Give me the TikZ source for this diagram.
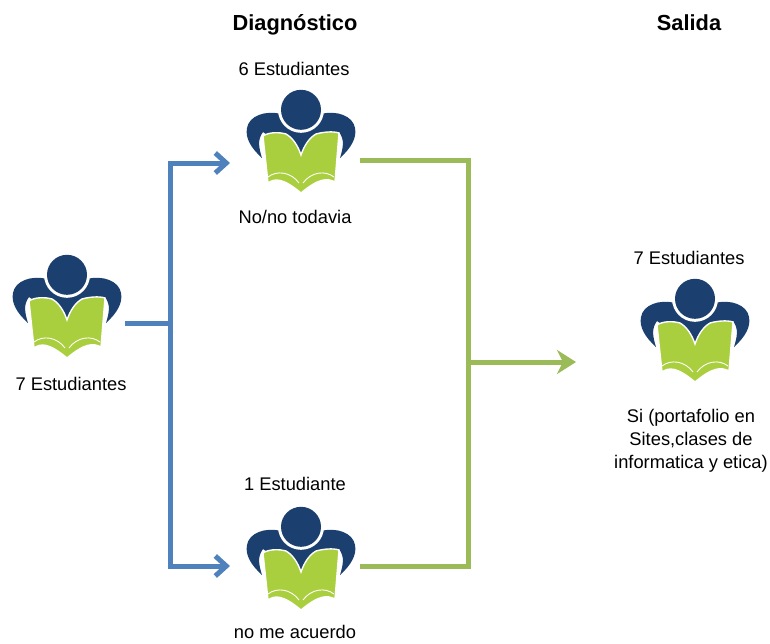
\documentclass[tikz,border=0pt]{standalone}
\usepackage{fontspec}
\setmainfont{Liberation Sans}
\usepackage{tikz}
\usetikzlibrary{calc,arrows.meta}
\definecolor{icon_dark}{HTML}{1B3F6F}
\definecolor{icon_green}{HTML}{A9CE3E}
\definecolor{line_blue}{HTML}{4F81BD}
\definecolor{line_green}{HTML}{9BBB59}
\tikzset{
	reader/.pic={
		\fill[icon_dark] (-39,68) .. controls (-50,58) and (-56,48) .. (-54,38)
			.. controls (-52,26) and (-36,20) .. (-20,24)
			-- (20,24)
			.. controls (36,20) and (52,26) .. (54,38)
			.. controls (56,48) and (50,58) .. (39,68)
			.. controls (42,58) and (44,50) .. (38,42)
			-- (0,68) -- (-38,42)
			.. controls (-44,50) and (-42,58) .. (-39,68) -- cycle;
		\fill[white] (0,19.8) circle (23);
		\fill[icon_dark] (0,19.8) circle (20);
		\fill[icon_green,draw=white,line width=1.4pt] (-38,46)
			.. controls (-32,42) and (-22,42) .. (-15,44)
			.. controls (-8,48) and (-3,56) .. (0,65)
			.. controls (3,56) and (8,48) .. (15,44)
			.. controls (22,42) and (32,41) .. (38,43)
			-- (34,92) .. controls (26,88) and (18,88) .. (0,103)
			.. controls (-18,88) and (-26,88) .. (-33,93) -- cycle;
		\draw[white,line width=0.9pt] (-33,87) .. controls (-24,80) and (-10,82) .. (-2,93);
		\draw[white,line width=0.9pt] (33,87) .. controls (24,80) and (10,82) .. (2,93);
	},
	blue_line/.style={line_blue,line width=5pt},
	green_line/.style={line_green,line width=5pt},
	blue_arrow/.style={blue_line,-{Straight Barb[length=11pt,width=20pt,line width=5pt]}},
	green_arrow/.style={green_line,-{Stealth[length=19pt,width=24pt,inset=6pt]}},
	label_text/.style={font=\fontsize{18.3}{23}\selectfont,align=center,inner sep=0pt},
	head_text/.style={font=\fontsize{21.8}{24}\selectfont\bfseries,inner sep=0pt,anchor=base}
}
\begin{document}
\begin{tikzpicture}[x=1pt,y=-1pt]
	\useasboundingbox (0,0) rectangle (770,643);

	% icons
	\pic at (67,255) {reader};
	\pic at (301,90) {reader};
	\pic at (301,507) {reader};
	\pic at (695,279) {reader};

	% titles
	\node[head_text] (title_diagnostico) at (295,30) {Diagnóstico};
	\node[head_text] (title_salida) at (689,30) {Salida};

	% labels
	\node[label_text] (left_count) at (71,384) {7 Estudiantes};
	\node[label_text] (top_count) at (294,69) {6 Estudiantes};
	\node[label_text] (top_answer) at (295,217) {No/no todavia};
	\node[label_text] (bottom_count) at (295,484) {1 Estudiante};
	\node[label_text] (bottom_answer) at (295,632) {no me acuerdo};
	\node[label_text] (right_count) at (689,258) {7 Estudiantes};
	\node[label_text] (right_answer) at (691,441) {Si (portafolio en\\Sites,clases de\\informatica y etica)};

	% blue lines
	\coordinate (start_left) at (125,323);
	\coordinate (split_blue) at (170,323);
	\coordinate (end_top) at (230,163);
	\coordinate (end_bottom) at (230,566);
	\draw[blue_line] (start_left) -- (split_blue);
	\draw[blue_arrow] (split_blue) |- (end_top);
	\draw[blue_arrow] (split_blue) |- (end_bottom);

	% green lines
	\coordinate (start_top) at (360,160);
	\coordinate (start_bottom) at (360,566);
	\coordinate (join_green) at (468,362);
	\coordinate (end_right) at (576,362);
	\draw[green_line] (start_top) -| (join_green);
	\draw[green_line] (start_bottom) -| (join_green);
	\draw[green_arrow] (join_green) -- (end_right);
\end{tikzpicture}
\end{document}
